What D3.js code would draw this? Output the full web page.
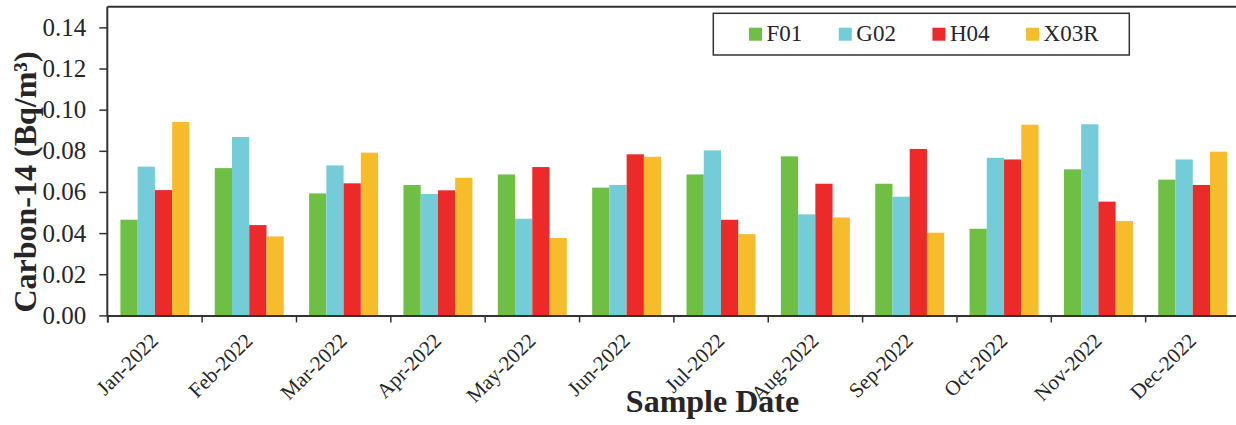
<!DOCTYPE html>
<html>
<head>
    <title>Carbon-14 by Sample Date</title>
    <script src="https://d3js.org/d3.v7.min.js"></script>
    <style>
        body { margin: 0; background: #fff; }
        text { font-family: "Liberation Serif", "Times New Roman", serif; fill: #262626; }
    </style>
</head>
<body>
    <svg width="1236" height="425"></svg>
    <script>
        // data
        const months = ["Jan-2022", "Feb-2022", "Mar-2022", "Apr-2022", "May-2022", "Jun-2022",
                        "Jul-2022", "Aug-2022", "Sep-2022", "Oct-2022", "Nov-2022", "Dec-2022"];
        const seriesNames = ["F01", "G02", "H04", "X03R"];
        const F01  = [0.0465, 0.0716, 0.0593, 0.0634, 0.0685, 0.0621, 0.0685, 0.0773, 0.0640, 0.0421, 0.0710, 0.0660];
        const G02  = [0.0723, 0.0867, 0.0729, 0.0590, 0.0470, 0.0634, 0.0802, 0.0491, 0.0577, 0.0766, 0.0929, 0.0758];
        const H04  = [0.0609, 0.0439, 0.0642, 0.0608, 0.0721, 0.0783, 0.0465, 0.0640, 0.0809, 0.0758, 0.0553, 0.0634];
        const X03R = [0.0940, 0.0384, 0.0791, 0.0669, 0.0376, 0.0771, 0.0395, 0.0476, 0.0402, 0.0927, 0.0459, 0.0796];
        const yTicks = [0, 0.02, 0.04, 0.06, 0.08, 0.10, 0.12, 0.14];
        const colors = ["#6fbf45", "#73ccd8", "#ec2a29", "#f6bc2c"];

        const seriesValues = [F01, G02, H04, X03R];
        const rows = months.map((m, i) => ({
            month: m,
            values: seriesNames.map((s, j) => ({ key: s, value: seriesValues[j][i] }))
        }));

        const svg = d3.select("svg");
        const plot = { left: 107.3, right: 1239.5, top: 6.8, bottom: 315.4 };

        const x0 = d3.scaleBand().domain(months).range([plot.left, plot.right]).padding(0);
        const bw = x0.bandwidth();
        const x1 = d3.scaleBand().domain(seriesNames).range([bw * 0.139, bw * 0.87]).padding(0);
        const y = d3.scaleLinear().domain([0, 0.15]).range([plot.bottom, plot.top]);
        const color = d3.scaleOrdinal().domain(seriesNames).range(colors);

        // bars
        svg.append("g")
           .selectAll("g")
           .data(rows)
           .enter().append("g")
           .attr("transform", d => `translate(${x0(d.month)},0)`)
           .selectAll("rect")
           .data(d => d.values)
           .enter().append("rect")
           .attr("x", d => x1(d.key))
           .attr("width", x1.bandwidth())
           .attr("y", d => y(d.value))
           .attr("height", d => y(0) - y(d.value))
           .attr("fill", d => color(d.key));

        // top frame line
        svg.append("line")
           .attr("x1", plot.left).attr("x2", plot.right)
           .attr("y1", plot.top).attr("y2", plot.top)
           .attr("stroke", "#333").attr("stroke-width", 2);

        // y axis
        const yAxis = svg.append("g")
           .attr("transform", `translate(${plot.left},0)`)
           .call(d3.axisLeft(y).tickValues(yTicks).tickFormat(d3.format(".2f")).tickSize(8).tickPadding(13));
        yAxis.select(".domain").attr("d", `M0,${plot.top}V${plot.bottom}`).attr("stroke", "#333").attr("stroke-width", 2);
        yAxis.selectAll(".tick line").attr("stroke", "#333").attr("stroke-width", 1.5);
        yAxis.selectAll(".tick text").attr("font-size", 25).attr("fill", "#262626")
             .style("font-family", "'Liberation Serif', serif");

        // x axis: ticks at category boundaries
        const xb = d3.scaleLinear().domain([0, months.length]).range([plot.left, plot.right]);
        const xAxis = svg.append("g")
           .attr("transform", `translate(0,${plot.bottom})`)
           .call(d3.axisBottom(xb).tickValues(d3.range(months.length + 1)).tickFormat("").tickSize(7));
        xAxis.select(".domain").attr("stroke", "#333").attr("stroke-width", 2);
        xAxis.selectAll(".tick line").attr("stroke", "#333").attr("stroke-width", 1.5);

        // rotated month labels
        svg.append("g")
           .selectAll("text")
           .data(months)
           .enter().append("text")
           .attr("transform", d => `translate(${x0(d) + bw / 2 + 5},342) rotate(-45)`)
           .attr("text-anchor", "end")
           .attr("font-size", 21)
           .text(d => d);

        // axis titles
        svg.append("text")
           .attr("x", 712.5).attr("y", 412)
           .attr("text-anchor", "middle")
           .attr("font-size", 32).attr("font-weight", "bold")
           .attr("fill", "#1a1a1a")
           .text("Sample Date");

        svg.append("text")
           .attr("transform", "translate(36,182) rotate(-90)")
           .attr("text-anchor", "middle")
           .attr("font-size", 32).attr("font-weight", "bold")
           .attr("fill", "#1a1a1a")
           .text("Carbon-14 (Bq/m³)");

        // legend
        const legend = svg.append("g");
        legend.append("rect")
           .attr("x", 713.3).attr("y", 13.3)
           .attr("width", 416).attr("height", 41.7)
           .attr("fill", "#fff").attr("stroke", "#333").attr("stroke-width", 1.5);

        let lx = 749;
        seriesNames.forEach(s => {
            legend.append("rect")
               .attr("x", lx).attr("y", 27.7)
               .attr("width", 13).attr("height", 13)
               .attr("fill", color(s));
            const t = legend.append("text")
               .attr("x", lx + 17.5).attr("y", 41)
               .attr("font-size", 23)
               .text(s);
            lx += 17.5 + t.node().getComputedTextLength() + 36.5;
        });
    </script>
</body>
</html>
